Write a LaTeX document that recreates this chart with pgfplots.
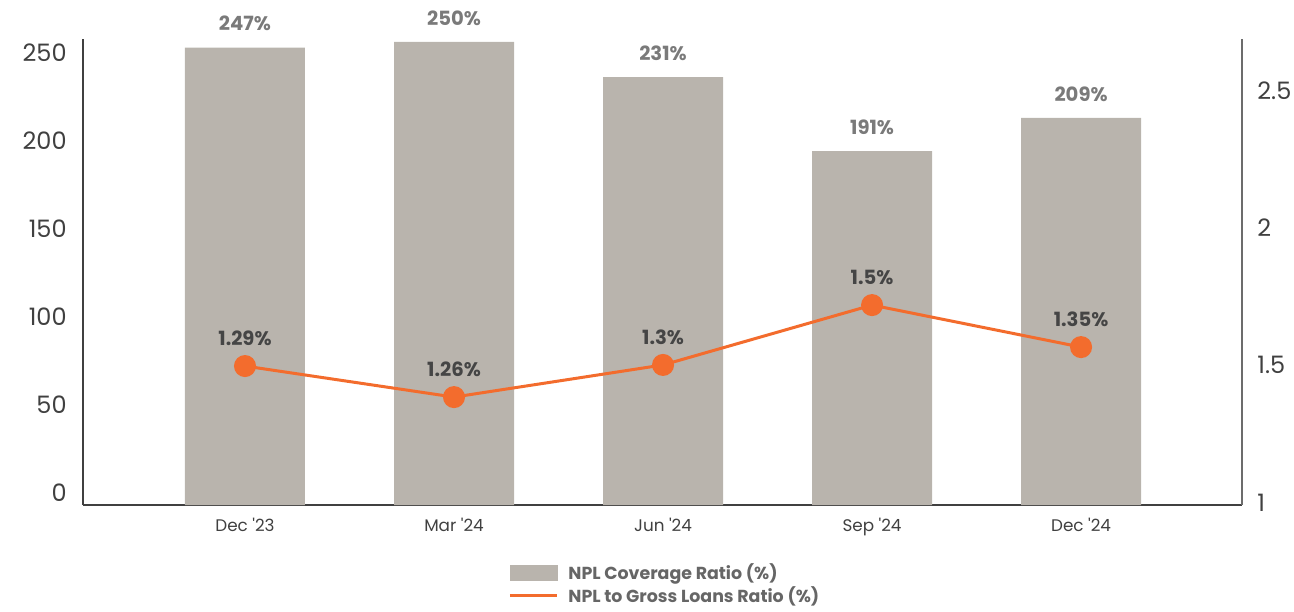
\documentclass[border=0pt]{standalone}
\usepackage{fontspec}
\setmainfont{Poppins}
\usepackage{pgfplots}
\pgfplotsset{compat=1.18}

\definecolor{barc}{HTML}{B9B4AD}
\definecolor{linec}{HTML}{F36C2D}
\definecolor{ticktxt}{HTML}{404040}
\definecolor{barlab}{HTML}{7A7A7A}
\definecolor{linelab}{HTML}{454545}
\definecolor{legtxt}{HTML}{666666}

\begin{document}
\begin{tikzpicture}
% 1 px of the reference = 0.5pt
\useasboundingbox (-41.5pt,-53pt) rectangle (605.5pt,252.5pt);

% bars, left axis
\begin{axis}[
  scale only axis, width=579.5pt, height=233pt,
  xmin=-0.775, xmax=4.770, ymin=0, ymax=251.6,
  clip=false,
  axis x line*=bottom, axis y line*=left,
  axis line style={draw=ticktxt, line width=0.75pt},
  major tick length=0pt,
  xtick={0,1,2,3,4},
  xticklabels={Dec \textquotesingle23, Mar \textquotesingle24, Jun \textquotesingle24, Sep \textquotesingle24, Dec \textquotesingle24},
  xticklabel style={anchor=north, inner sep=0pt, yshift=-6.5pt, text=ticktxt, font=\fontsize{8.4}{10}\selectfont},
  ytick={6.5,54,101.5,149,196.5,244},
  yticklabels={0,50,100,150,200,250},
  yticklabel style={anchor=east, inner sep=0pt, xshift=-8pt, text=ticktxt, font=\fontsize{12}{14}\selectfont},
]
\addplot[ybar, bar width=60pt, fill=barc, draw=none,
  point meta=explicit symbolic, nodes near coords,
  every node near coord/.style={anchor=south, inner sep=0pt, yshift=8pt, text=barlab, font=\fontsize{9.8}{11}\selectfont\bfseries}]
  coordinates {(0,247)[247\%] (1,250)[250\%] (2,231)[231\%] (3,191)[191\%] (4,209)[209\%]};
\end{axis}

% line, right axis
\begin{axis}[
  scale only axis, width=579.5pt, height=233pt,
  xmin=-0.775, xmax=4.770, ymin=0.991, ymax=2.688,
  clip=false,
  axis x line=none, axis y line*=right,
  axis line style={draw=gray!85!black, line width=0.75pt},
  major tick length=0pt,
  ytick={1,1.5,2,2.5},
  yticklabels={1,1.5,2,2.5},
  yticklabel style={anchor=west, inner sep=0pt, xshift=7.5pt, text=ticktxt, font=\fontsize{12}{14}\selectfont},
  legend style={at={(0.3667,-0.125)}, anchor=north west, draw=none, fill=none,
    inner sep=0pt, row sep=2pt, column sep=5pt,
    nodes={inner sep=0pt, text=legtxt}, font=\fontsize{8.7}{10}\selectfont\bfseries},
  legend cell align=left,
]
\addlegendimage{legend image code/.code={\fill[barc] (0pt,-3.75pt) rectangle (23.5pt,3.75pt);}}
\addlegendentry{NPL Coverage Ratio (\%)}
\addplot[color=linec, line width=1.5pt, mark=*, mark size=4.75pt,
  mark options={fill=linec, draw=linec},
  legend image code/.code={\draw[linec, line width=1.5pt] (0pt,0pt) -- (23.5pt,0pt);},
  point meta=explicit symbolic, nodes near coords,
  every node near coord/.style={anchor=south, inner sep=0pt, yshift=9.5pt, text=linelab, font=\fontsize{9.8}{11}\selectfont\bfseries}]
  coordinates {(0,1.497)[1.29\%] (1,1.384)[1.26\%] (2,1.501)[1.3\%] (3,1.719)[1.5\%] (4,1.566)[1.35\%]};
\addlegendentry{NPL to Gross Loans Ratio (\%)}
\end{axis}
\end{tikzpicture}
\end{document}
